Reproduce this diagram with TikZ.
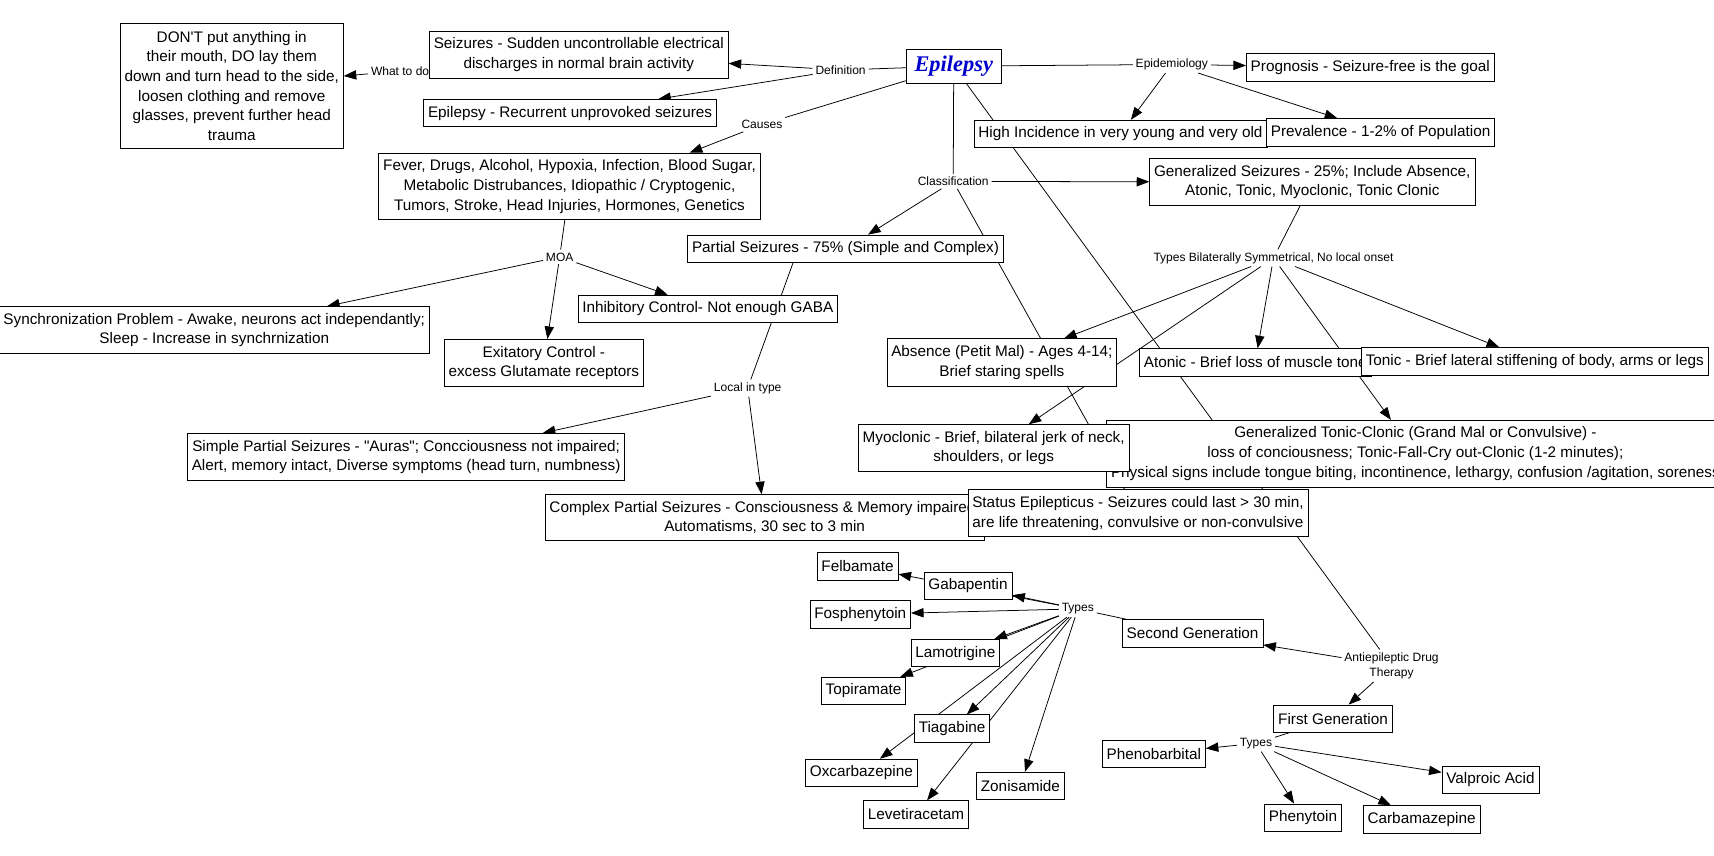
\documentclass[tikz,border=0pt]{standalone}
\usepackage{fontspec}
\setmainfont{Liberation Sans}
\newfontfamily\titlefont{Liberation Serif}
\usetikzlibrary{arrows.meta,backgrounds}
\definecolor{epiblue}{RGB}{0,0,205}

\begin{document}
\begin{tikzpicture}[x=1pt, y=-1pt]
    \tikzset{
        concept/.style = {rectangle, draw=black, line width=0.7pt, fill=white, inner xsep=4pt, inner ysep=6pt,
                          minimum height=25pt, align=center, font=\fontsize{14}{18}\selectfont},
        linkword/.style = {inner sep=2.5pt, align=center, font=\fontsize{11}{14}\selectfont},
        arrow/.style = {line width=0.7pt, ->, >={Triangle[length=11.5pt,width=8.5pt]}},
        link/.style = {line width=0.7pt}
    }
    \useasboundingbox (0,0) rectangle (1568,783);

    \node (epilepsy) [concept, font=\titlefont\fontsize{20.5}{24}\selectfont\bfseries\itshape, text=epiblue,
                      minimum width=87pt, minimum height=31pt] at (872.5,60.5) {Epilepsy};
    \node (whattodo) [linkword] at (366,65) {What to do};
    \node (dont) [concept, inner ysep=7pt] at (212,78.5) {DON\textquotesingle T put anything in\\their mouth, DO lay them\\down and turn head to the side,\\loosen clothing and remove\\glasses, prevent further head\\trauma};
    \node (seizures) [concept] at (529.5,50) {Seizures - Sudden uncontrollable electrical\\discharges in normal brain activity};
    \node (definition) [linkword] at (769,64) {Definition};
    \node (recurrent) [concept] at (521.5,103.5) {Epilepsy - Recurrent unprovoked seizures};
    \node (causes) [linkword] at (697,114) {Causes};
    \node (fever) [concept] at (521,170.5) {Fever, Drugs, Alcohol, Hypoxia, Infection, Blood Sugar,\\Metabolic Distrubances, Idiopathic / Cryptogenic,\\Tumors, Stroke, Head Injuries, Hormones, Genetics};

    \node (epidemiology) [linkword] at (1072,59) {Epidemiology};
    \node (prognosis) [concept] at (1253.5,61.5) {Prognosis - Seizure-free is the goal};
    \node (incidence) [concept] at (1025,122.5) {High Incidence in very young and very old};
    \node (prevalence) [concept] at (1263,121) {Prevalence - 1-2\% of Population};

    \node (classification) [linkword] at (872,166) {Classification};
    \node (generalized) [concept] at (1200.5,166.5) {Generalized Seizures - 25\%; Include Absence,\\Atonic, Tonic, Myoclonic, Tonic Clonic};
    \node (partial) [concept] at (773.5,227.5) {Partial Seizures - 75\% (Simple and Complex)};

    \node (moa) [linkword] at (512,235) {MOA};
    \node (sync) [concept] at (196,302) {Synchronization Problem - Awake, neurons act independantly;\\Sleep - Increase in synchrnization};
    \node (inhibitory) [concept] at (647.5,282.5) {Inhibitory Control- Not enough GABA};
    \node (excitatory) [concept] at (497.5,332) {Exitatory Control -\\excess Glutamate receptors};

    \node (typesbilat) [linkword] at (1165,236) {Types Bilaterally Symmetrical, No local onset};
    \node (absence) [concept] at (916.5,331.5) {Absence (Petit Mal) - Ages 4-14;\\Brief staring spells};
    \node (atonic) [concept, anchor=west] at (1042,331.5) {Atonic - Brief loss of muscle tone};
    \node (tonic) [concept] at (1404,330.5) {Tonic - Brief lateral stiffening of body, arms or legs};
    \node (tonicclonic) [concept, anchor=west] at (1012,415) {Generalized Tonic-Clonic (Grand Mal or Convulsive) -\\loss of conciousness; Tonic-Fall-Cry out-Clonic (1-2 minutes);\\Physical signs include tongue biting, incontinence, lethargy, confusion /agitation, soreness};
    \node (myoclonic) [concept] at (909,410) {Myoclonic - Brief, bilateral jerk of neck,\\shoulders, or legs};

    \node (localintype) [linkword] at (684,355) {Local in type};
    \node (simple) [concept] at (371.5,418) {Simple Partial Seizures - \textquotedbl Auras\textquotedbl; Concciousness not impaired;\\Alert, memory intact, Diverse symptoms (head turn, numbness)};
    \node (complex) [concept] at (699.5,473.5) {Complex Partial Seizures - Consciousness \& Memory impaired;\\Automatisms, 30 sec to 3 min};
    \node (status) [concept] at (1041,469.5) {Status Epilepticus - Seizures could last > 30 min,\\are life threatening, convulsive or non-convulsive};

    \node (aed) [linkword] at (1273,609) {Antiepileptic Drug\\Therapy};
    \node (secondgen) [concept] at (1091,579.5) {Second Generation};
    \node (firstgen) [concept] at (1219.5,657.5) {First Generation};

    \node (typestwo) [linkword] at (986,557) {Types};
    \node (felbamate) [concept] at (784.5,518) {Felbamate};
    \node (gabapentin) [concept] at (885.5,536) {Gabapentin};
    \node (fosphenytoin) [concept] at (787,562) {Fosphenytoin};
    \node (lamotrigine) [concept] at (874,597.5) {Lamotrigine};
    \node (topiramate) [concept] at (790,632) {Topiramate};
    \node (tiagabine) [concept] at (871,666.5) {Tiagabine};
    \node (oxcarbazepine) [concept] at (788,707) {Oxcarbazepine};
    \node (levetiracetam) [concept] at (838,745) {Levetiracetam};
    \node (zonisamide) [concept] at (933.5,719) {Zonisamide};

    \node (typesone) [linkword] at (1149,680) {Types};
    \node (phenobarbital) [concept] at (1055.5,689.5) {Phenobarbital};
    \node (phenytoin) [concept] at (1192,748) {Phenytoin};
    \node (carbamazepine) [concept] at (1300.5,749.5) {Carbamazepine};
    \node (valproic) [concept] at (1363.5,713.5) {Valproic Acid};

    \begin{scope}[on background layer]
    \draw [link] (epilepsy) -- (definition);
    \draw [arrow] (definition) -- (seizures);
    \draw [arrow] (definition) -- (recurrent);
    \draw [arrow] (whattodo) -- (dont);
    \draw [link] (epilepsy) -- (causes);
    \draw [arrow] (causes) -- ([xshift=110pt]fever.north);

    \draw [link] (epilepsy) -- (epidemiology);
    \draw [arrow] (epidemiology) -- (prognosis);
    \draw [arrow] (epidemiology) -- (incidence);
    \draw [arrow] (epidemiology) -- (prevalence);

    \draw [link] (epilepsy) -- (classification);
    \draw [arrow] (classification) -- (generalized);
    \draw [arrow] (classification) -- (partial);
    \draw [arrow] (classification) -- (status);
    \draw [link] (epilepsy) -- (aed);

    \draw [link] (fever) -- (moa);
    \draw [arrow] (moa) -- (sync);
    \draw [arrow] (moa) -- (excitatory);
    \draw [arrow] (moa) -- (inhibitory);

    \draw [link] ([xshift=-48pt]partial.south) -- (localintype);
    \draw [arrow] (localintype) -- ([xshift=125pt]simple.north);
    \draw [arrow] (localintype) -- (complex);

    \draw [link] (generalized) -- (typesbilat);
    \draw [arrow] (typesbilat) -- (absence);
    \draw [arrow] (typesbilat) -- (myoclonic);
    \draw [arrow] (typesbilat) -- (atonic);
    \draw [arrow] (typesbilat) -- (tonicclonic);
    \draw [arrow] (typesbilat) -- (tonic);

    \draw [arrow] (aed) -- (secondgen);
    \draw [arrow] (aed) -- (firstgen);

    \draw [link] (secondgen) -- (typestwo);
    \draw [arrow] (typestwo) -- (felbamate);
    \draw [arrow] (typestwo) -- (gabapentin);
    \draw [arrow] (typestwo) -- (fosphenytoin);
    \draw [arrow] (typestwo) -- (lamotrigine);
    \draw [arrow] (typestwo) -- (topiramate);
    \draw [arrow] (typestwo) -- (tiagabine);
    \draw [arrow] (typestwo) -- (oxcarbazepine);
    \draw [arrow] (typestwo) -- (levetiracetam);
    \draw [arrow] (typestwo) -- (zonisamide);

    \draw [link] (firstgen) -- (typesone);
    \draw [arrow] (typesone) -- (phenobarbital);
    \draw [arrow] (typesone) -- (phenytoin);
    \draw [arrow] (typesone) -- (carbamazepine);
    \draw [arrow] (typesone) -- (valproic);
    \end{scope}
\end{tikzpicture}
\end{document}
